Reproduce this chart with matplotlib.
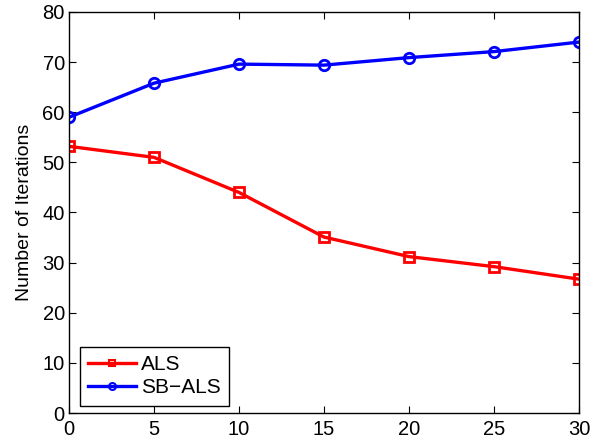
import matplotlib
matplotlib.use("Agg")
import matplotlib.pyplot as plt

plt.rcParams['font.family'] = ['Liberation Sans', 'DejaVu Sans']

# data
x_vals = [0, 5, 10, 15, 20, 25, 30]
als = [53.2, 51.0, 44.0, 35.1, 31.2, 29.2, 26.7]
sb_als = [59.0, 65.8, 69.6, 69.4, 70.9, 72.1, 74.0]

fig = plt.figure(figsize=(5.93, 4.44), dpi=100)
ax = fig.add_axes([0.1164, 0.0698, 0.86, 0.9032])

ax.plot(x_vals, als, color='red', lw=2.4, marker='s', ms=6.5, mfc='none',
        mec='red', mew=2, label='ALS')
ax.plot(x_vals, sb_als, color='blue', lw=2.4, marker='o', ms=7.5, mfc='none',
        mec='blue', mew=2, label='SB\u2212ALS')

ax.set_xlim(0, 30)
ax.set_ylim(0, 80)
ax.set_xticks(range(0, 31, 5))
ax.set_yticks(range(0, 81, 10))
ax.tick_params(direction='in', length=5, width=0.8, labelsize=14.5,
               top=True, right=True)
ax.tick_params(axis='x', pad=5)
ax.tick_params(axis='y', pad=3)
for sp in ax.spines.values():
    sp.set_linewidth(1.0)
ax.set_ylabel('Number of Iterations', fontsize=14, labelpad=7)

leg = ax.legend(loc='lower left', bbox_to_anchor=(0.021, 0.018), fontsize=15,
                fancybox=False, framealpha=1, edgecolor='black',
                handlelength=2.3, borderpad=0.4, labelspacing=0.2,
                handletextpad=0.25, borderaxespad=0)
leg.get_frame().set_linewidth(1.0)
for h in leg.legend_handles:
    h.set_markersize(5)
    h.set_markeredgewidth(1.5)

fig.savefig('out.png', dpi=100)
